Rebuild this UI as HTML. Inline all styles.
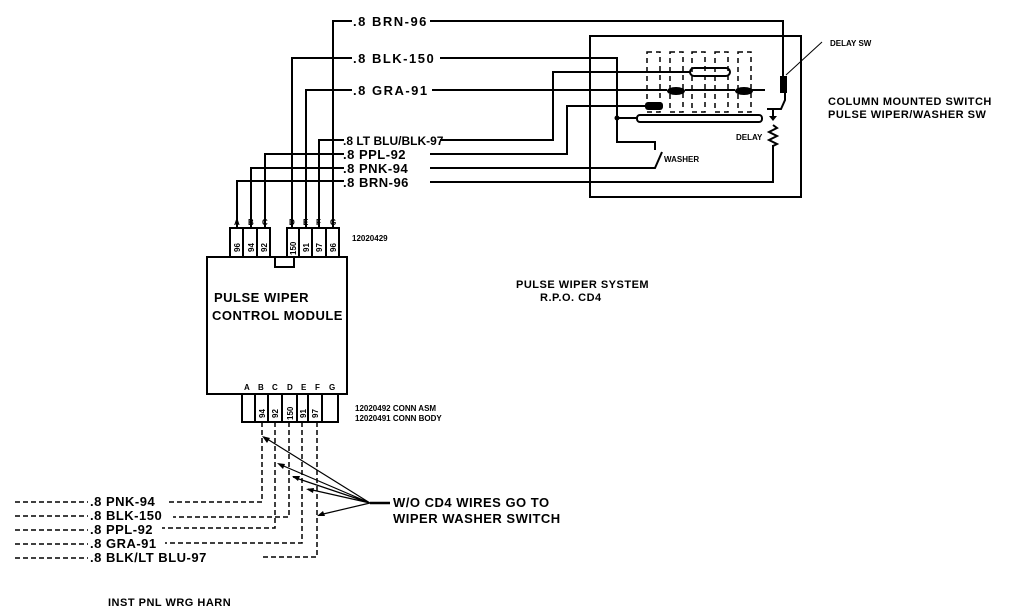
<!DOCTYPE html>
<html><head><meta charset="utf-8"><style>
html,body{margin:0;padding:0;background:#fff;}
svg{display:block;}
text{font-family:"Liberation Sans",sans-serif;font-weight:bold;fill:#000;}
.l{font-size:13px;letter-spacing:0.5px;}
.s{font-size:8px;}
</style></head><body>
<svg width="1024" height="614" viewBox="0 0 1024 614" xmlns="http://www.w3.org/2000/svg">
<g stroke="#000" fill="none" stroke-width="2">
<path d="M237 228V181H344"/>
<path d="M251 228V168H344"/>
<path d="M265 228V154H344"/>
<path d="M292 228V58H352"/>
<path d="M306 228V90H352"/>
<path d="M319 228V140H344"/>
<path d="M333 228V21H352"/>
<path d="M430 21H783V77"/>
<path d="M440 58H617V142H655V150"/>
<path d="M432 90H667"/>
<path d="M685 90H735"/>
<path d="M752 90H765"/>
<path d="M440 140H553V72H690"/>
<path d="M430 154H567V106H645"/>
<path d="M430 168H655L662 152"/>
<path d="M430 182H773V145"/>
<path d="M617 58V118H637"/>
<rect x="590" y="36" width="211" height="161"/>
<rect x="637" y="115" width="125" height="7" rx="3"/>
<rect x="690" y="68" width="40" height="8" rx="4"/>
<path d="M785 93V100L781 109H767"/>
<path d="M773 109V118"/>
<path d="M773 125L777 128L769 132L777 136L769 140L777 144L773 146"/>
<path d="M786 75L822 42" stroke-width="1"/>
</g>
<g fill="#000">
<ellipse cx="676" cy="91" rx="9" ry="4"/>
<ellipse cx="744" cy="91" rx="9" ry="4"/>
<rect x="645" y="102" width="18" height="8" rx="3"/>
<rect x="780" y="76" width="7" height="17"/>
<path d="M769 116L777 116L773 121Z"/>
<circle cx="617" cy="118" r="2.5"/>
</g>
<g stroke="#000" stroke-width="1.5" fill="none" stroke-dasharray="5,4">
<rect x="647" y="52" width="13" height="60"/>
<rect x="670" y="52" width="13" height="60"/>
<rect x="692" y="52" width="13" height="60"/>
<rect x="715" y="52" width="13" height="60"/>
<rect x="738" y="52" width="13" height="60"/>
</g>
<g stroke="#000" stroke-width="2" fill="none">
<rect x="207" y="257" width="140" height="137"/>
<rect x="275" y="257" width="19" height="10"/>
<rect x="230" y="228" width="40" height="29"/>
<path d="M243 228V257M257 228V257"/>
<rect x="287" y="228" width="52" height="29"/>
<path d="M299 228V257M312 228V257M326 228V257"/>
<rect x="242" y="394" width="96" height="28"/>
<path d="M255 394V422M268 394V422M282 394V422M297 394V422M308 394V422M322 394V422"/>
</g>
<g class="s">
<text transform="translate(240,252) rotate(-90)">96</text>
<text transform="translate(254,252) rotate(-90)">94</text>
<text transform="translate(267,252) rotate(-90)">92</text>
<text transform="translate(296,255) rotate(-90)">150</text>
<text transform="translate(309,252) rotate(-90)">91</text>
<text transform="translate(322,252) rotate(-90)">97</text>
<text transform="translate(336,252) rotate(-90)">96</text>
<text transform="translate(265,418) rotate(-90)">94</text>
<text transform="translate(278,418) rotate(-90)">92</text>
<text transform="translate(293,420) rotate(-90)">150</text>
<text transform="translate(306,418) rotate(-90)">91</text>
<text transform="translate(318,418) rotate(-90)">97</text>
<text x="234" y="225">A</text><text x="248" y="225">B</text><text x="262" y="225">C</text>
<text x="289" y="225">D</text><text x="303" y="225">E</text><text x="316" y="225">F</text><text x="330" y="225">G</text>
<text x="244" y="390">A</text><text x="258" y="390">B</text><text x="272" y="390">C</text>
<text x="287" y="390">D</text><text x="301" y="390">E</text><text x="315" y="390">F</text><text x="329" y="390">G</text>
</g>
<g stroke="#000" stroke-width="1.5" fill="none" stroke-dasharray="5,3">
<path d="M262 422V502H168"/>
<path d="M289 422V517H173"/>
<path d="M275 422V528H162"/>
<path d="M302 422V543H165"/>
<path d="M317 422V557H260"/>
<path d="M15 502H88M15 516H88M15 530H88M15 544H88M15 558H88"/>
</g>
<g stroke="#000" stroke-width="1.2" fill="none">
<path d="M370 503L264 437M370 503L279 464M370 503L293 477M370 503L308 489M370 503L319 515"/>
<path d="M370 503H390" stroke-width="2.5"/>
</g>
<g fill="#000">
<path d="M262 436l8 2l-3 5z"/><path d="M277 463l8 1l-2 5z"/><path d="M292 476l8 0l-2 5z"/><path d="M306 489l8-1l-1 5z"/><path d="M317 516l6-5l2 5z"/>
</g>
<g class="l">
<text x="353" y="26" style="letter-spacing:1.5px">.8 BRN-96</text>
<text x="353" y="63" style="letter-spacing:1.5px">.8 BLK-150</text>
<text x="353" y="95" style="letter-spacing:1.5px">.8 GRA-91</text>
<text x="343" y="145" style="font-size:12px;letter-spacing:0">.8 LT BLU/BLK-97</text>
<text x="343" y="159">.8 PPL-92</text>
<text x="343" y="173">.8 PNK-94</text>
<text x="343" y="187">.8 BRN-96</text>
<text x="90" y="506">.8 PNK-94</text>
<text x="90" y="520">.8 BLK-150</text>
<text x="90" y="534">.8 PPL-92</text>
<text x="90" y="548">.8 GRA-91</text>
<text x="90" y="562">.8 BLK/LT BLU-97</text>
<text x="214" y="302">PULSE WIPER</text>
<text x="212" y="320">CONTROL MODULE</text>
<text x="516" y="288" style="font-size:11px">PULSE WIPER SYSTEM</text>
<text x="540" y="301" style="font-size:11px">R.P.O. CD4</text>
<text x="828" y="105" style="font-size:11px">COLUMN MOUNTED SWITCH</text>
<text x="828" y="118" style="font-size:11px">PULSE WIPER/WASHER SW</text>
<text x="393" y="507">W/O CD4 WIRES GO TO</text>
<text x="393" y="523">WIPER WASHER SWITCH</text>
<text x="108" y="606" style="font-size:11px">INST PNL WRG HARN</text>
</g>
<g class="s">
<text x="352" y="241">12020429</text>
<text x="355" y="411">12020492 CONN ASM</text>
<text x="355" y="421">12020491 CONN BODY</text>
<text x="830" y="46">DELAY SW</text>
<text x="736" y="140">DELAY</text>
<text x="664" y="162">WASHER</text>
</g>
</svg>
</body></html>
